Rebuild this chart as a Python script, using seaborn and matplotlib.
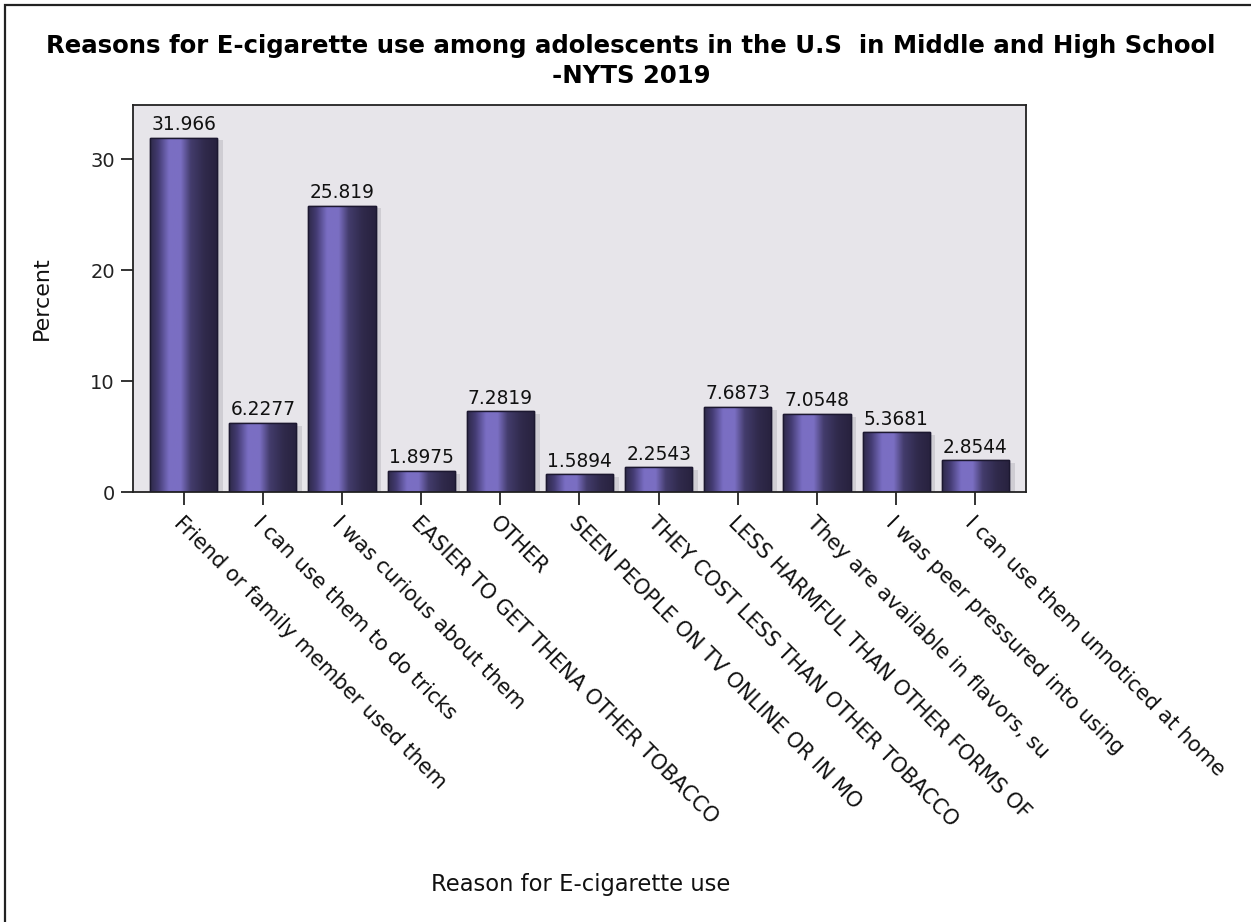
import numpy as np
import pandas as pd
import matplotlib
matplotlib.use("Agg")
import matplotlib.pyplot as plt
import matplotlib.patheffects as pe
from matplotlib.colors import LinearSegmentedColormap
from matplotlib.patches import Rectangle
import seaborn as sns

categories = [
    "Friend or family member used them",
    "I can use them to do tricks",
    "I was curious about them",
    "EASIER TO GET THENA OTHER TOBACCO",
    "OTHER",
    "SEEN PEOPLE ON TV ONLINE OR IN MO",
    "THEY COST LESS THAN OTHER TOBACCO",
    "LESS HARMFUL THAN OTHER FORMS OF",
    "They are available in flavors, su",
    "I was peer pressured into using",
    "I can use them unnoticed at home",
]
values = [31.966, 6.2277, 25.819, 1.8975, 7.2819, 1.5894, 2.2543, 7.6873, 7.0548, 5.3681, 2.8544]
value_labels = ["31.966", "6.2277", "25.819", "1.8975", "7.2819", "1.5894", "2.2543",
                "7.6873", "7.0548", "5.3681", "2.8544"]
yticks = [0, 10, 20, 30]

df = pd.DataFrame({"reason": categories, "percent": values})

sns.set_theme(style="white")
plt.rcParams["font.family"] = ["DejaVu Sans"]

W, H = 1251, 922
fig = plt.figure(figsize=(W / 100, H / 100), dpi=100)
fig.patch.set_facecolor("white")

ax = fig.add_axes([133 / W, 1 - 492 / H, (1026 - 133) / W, (492 - 105) / H])
ax.set_facecolor("#e7e5ea")

sns.barplot(data=df, x="reason", y="percent", order=categories, ax=ax,
            width=0.85, color="#5a4f98", edgecolor="#1c1830", linewidth=1.0,
            errorbar=None, zorder=2)

cmap = LinearSegmentedColormap.from_list(
    "barg",
    [(0.0, "#2e2948"), (0.12, "#433b72"), (0.28, "#7a6ec3"), (0.45, "#7b6fc3"),
     (0.6, "#433c6c"), (0.8, "#302a4c"), (1.0, "#28223e")])
grad = np.linspace(0, 1, 256).reshape(1, -1)

for patch, lab in zip(ax.patches, value_labels):
    x0, y0 = patch.get_x(), patch.get_y()
    w, h = patch.get_width(), patch.get_height()
    patch.set_path_effects([pe.SimplePatchShadow(offset=(4, -2), shadow_rgbFace="#9a98a0", alpha=0.3),
                            pe.Normal()])
    im = ax.imshow(grad, extent=[x0, x0 + w, y0, y0 + h], aspect="auto", cmap=cmap,
                   zorder=2.5, interpolation="bicubic")
    im.set_clip_path(patch)
    edge = Rectangle((x0, y0), w, h, fill=False, edgecolor="#1c1830", linewidth=1.0, zorder=3)
    ax.add_patch(edge)
    ax.annotate(lab, (x0 + w / 2, y0 + h), xytext=(0, 2.5), textcoords="offset points",
                ha="center", va="bottom", fontsize=13.4, color="#111111", zorder=4)

ax.set_xlim(-0.64, 10.64)
ax.set_ylim(0, 34.9)
ax.set_yticks(yticks)
ax.set_yticklabels([str(v) for v in yticks], fontsize=14, color="#222222")
ax.tick_params(axis="both", which="both", direction="out", length=9, width=1.2,
               color="#111111", bottom=True, left=True)
ax.tick_params(axis="y", pad=4)
ax.tick_params(axis="x", pad=6)
ax.set_xticks(range(len(categories)))
ax.set_xticklabels(categories, fontsize=15, color="#111111")
plt.setp(ax.get_xticklabels(), rotation=-45, ha="left", va="top", rotation_mode="anchor")
for s in ax.spines.values():
    s.set_visible(True)
    s.set_color("#222222")
    s.set_linewidth(1.3)

ax.set_xlabel("")
ax.set_ylabel("")
fig.text(42 / W, 1 - 298 / H, "Percent", rotation=90, ha="center", va="center",
         fontsize=16, color="#111111")
fig.text(581 / W, 1 - 884 / H, "Reason for E-cigarette use", ha="center", va="center",
         fontsize=16.3, color="#111111")

fig.text(631 / W, 1 - 46 / H,
         "Reasons for E-cigarette use among adolescents in the U.S  in Middle and High School",
         ha="center", va="center", fontsize=17.6, fontweight="bold", color="#000000")
fig.text(631 / W, 1 - 76 / H, "-NYTS 2019", ha="center", va="center",
         fontsize=17.6, fontweight="bold", color="#000000")

# outer frame
fig.add_artist(Rectangle((5 / W, -0.05), 1.1, 1 - 5 / H + 0.05, transform=fig.transFigure,
                         fill=False, edgecolor="#222222", linewidth=1.6))

fig.savefig("out.png", dpi=100)
